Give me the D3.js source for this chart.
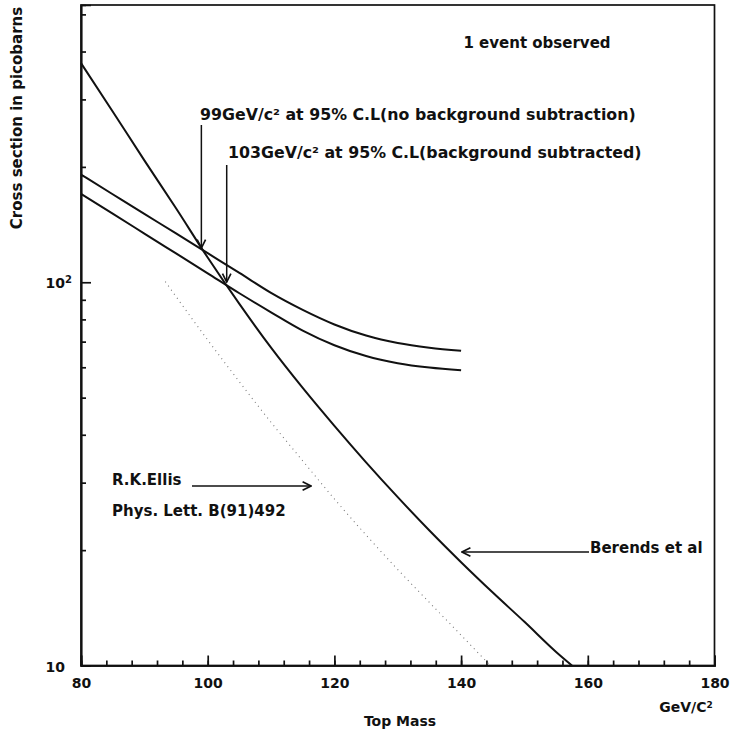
<!DOCTYPE html>
<html><head><meta charset="utf-8">
<script src="https://cdn.jsdelivr.net/npm/d3@7"></script>
<style>
body{margin:0;background:#fff;}
svg text{font-family:"DejaVu Sans",sans-serif;font-weight:bold;fill:#111;}
</style></head>
<body><svg id="c" width="734" height="735"></svg>
<script>
// ---- data ----
const berendsMass = [80, 85, 90, 95, 100, 105, 110, 115, 120, 125, 130, 135, 140, 145, 150, 155, 157.5];
const berendsXsec = [373, 279, 208, 156, 116, 87.8, 67.5, 53.0, 42.2, 33.9, 27.5, 22.5, 18.6, 15.5, 13.0, 10.85, 10];

const limitMass = [80, 85, 90, 95, 100, 105, 110, 115, 120, 125, 130, 135, 140];
const limitNoBg = [191, 169.7, 150.8, 134.1, 119.1, 105.8, 93.8, 84.7, 77.6, 72.6, 69.4, 67.5, 66.3];
const limitBgSub = [170, 151.0, 134.0, 118.9, 105.5, 93.6, 83.5, 74.8, 68.5, 64.2, 61.5, 59.9, 58.9];

const ellisMass = [93.3, 100, 105, 110, 115, 120, 125, 130, 135, 140, 144.6];
const ellisXsec = [100.4, 70.7, 55.0, 43.1, 34.2, 27.2, 21.9, 17.8, 14.6, 12.0, 10];

const xMajorTicks = [80, 100, 120, 140, 160, 180];
const xMinorTicks = d3.range(80, 181, 4);
const yMajorTicks = [10, 100];
const yMinorTicks = [20, 30, 40, 50, 60, 70, 80, 90, 200, 300, 400, 500];

const limitNoBgMass = 99, limitBgSubMass = 103;
const labelTop = "1 event observed";
const labelNoBg = "99GeV/c² at 95% C.L(no background subtraction)";
const labelBgSub = "103GeV/c² at 95% C.L(background subtracted)";

// ---- scales ----
const svg = d3.select("#c");
const x = d3.scaleLinear().domain([80, 180]).range([81, 714.5]);
const y = d3.scaleLog().domain([10, 529]).range([665.5, 5]);

const line = d3.line().x(d => x(d[0])).y(d => y(d[1])).curve(d3.curveMonotoneX);

// frame
svg.append("rect").attr("x", x(80)).attr("y", y(529))
  .attr("width", x(180) - x(80)).attr("height", y(10) - y(529))
  .attr("fill", "none").attr("stroke", "#111").attr("stroke-width", 1.7);

// axes
function styleAxis(g) {
  g.selectAll("path.domain").attr("stroke", "#111").attr("stroke-width", 1.7);
  g.selectAll(".tick line").attr("stroke", "#111").attr("stroke-width", 1.7);
  g.selectAll(".tick text").attr("font-size", 14).attr("font-family", null).attr("fill", "#111");
}
const gx = svg.append("g").attr("transform", `translate(0,${y(10)})`);
gx.append("g").call(d3.axisBottom(x).tickValues(xMinorTicks).tickSize(-5).tickFormat(""));
gx.append("g").call(d3.axisBottom(x).tickValues(xMajorTicks).tickSize(-10).tickPadding(13).tickFormat(d3.format("d")));
styleAxis(gx);

const gy = svg.append("g").attr("transform", `translate(${x(80)},0)`);
gy.append("g").call(d3.axisLeft(y).tickValues(yMinorTicks).tickSize(-5).tickFormat(""));
const gyM = gy.append("g").call(d3.axisLeft(y).tickValues(yMajorTicks).tickSize(-10).tickPadding(16).tickFormat(""));
styleAxis(gy);
gyM.selectAll(".tick text").each(function(d) {
  const t = d3.select(this).attr("dy", "0.4em");
  if (d === 100) {
    t.attr("x", -9);
    t.append("tspan").text("10");
    t.append("tspan").attr("dy", "-0.5em").attr("font-size", 10).text("2");
  } else {
    t.text("10");
  }
});

// axis titles
svg.append("text").attr("transform", `translate(22,118) rotate(-90)`)
  .attr("text-anchor", "middle").attr("font-size", 15).text("Cross section in picobarns");
svg.append("text").attr("x", 400).attr("y", 726).attr("text-anchor", "middle").attr("font-size", 14).text("Top Mass");
const gu = svg.append("text").attr("x", 686).attr("y", 712).attr("text-anchor", "middle").attr("font-size", 14);
gu.append("tspan").text("GeV/C");
gu.append("tspan").attr("dy", "-0.5em").attr("font-size", 9).text("2");

// curves
svg.append("path").datum(ellisMass.map((m, i) => [m, ellisXsec[i]]))
  .attr("d", line).attr("fill", "none").attr("stroke", "#777").attr("stroke-width", 1.1)
  .attr("stroke-dasharray", "1,4");
[[limitMass, limitNoBg], [limitMass, limitBgSub], [berendsMass, berendsXsec]].forEach(([mx, vy]) => {
  svg.append("path").datum(mx.map((m, i) => [m, vy[i]]))
    .attr("d", line).attr("fill", "none").attr("stroke", "#111").attr("stroke-width", 2);
});

// arrows
const defs = svg.append("defs");
defs.append("marker").attr("id", "ah").attr("viewBox", "0 0 10 10").attr("refX", 9).attr("refY", 5)
  .attr("markerWidth", 7).attr("markerHeight", 7).attr("orient", "auto")
  .append("path").attr("d", "M1,1 L9,5 L1,9").attr("fill", "none").attr("stroke", "#111").attr("stroke-width", 1.6);

function arrow(x1, y1, x2, y2) {
  svg.append("line").attr("x1", x1).attr("y1", y1).attr("x2", x2).attr("y2", y2)
    .attr("stroke", "#111").attr("stroke-width", 1.5).attr("marker-end", "url(#ah)");
}
const noBgAt = d3.scaleLinear().domain(limitMass).range(limitNoBg)(limitNoBgMass);
const bgSubAt = d3.scaleLinear().domain(limitMass).range(limitBgSub)(limitBgSubMass);
arrow(x(limitNoBgMass), 125, x(limitNoBgMass), y(noBgAt) - 1);
arrow(x(limitBgSubMass), 165, x(limitBgSubMass), y(bgSubAt) - 3);

// texts
svg.append("text").attr("x", 537).attr("y", 47.5).attr("text-anchor", "middle").attr("font-size", 15).text(labelTop);
svg.append("text").attr("x", 200).attr("y", 120).attr("font-size", 15.8).text(labelNoBg);
svg.append("text").attr("x", 228).attr("y", 158).attr("font-size", 15.8).text(labelBgSub);

svg.append("text").attr("x", 112).attr("y", 485).attr("font-size", 15).text("R.K.Ellis");
svg.append("text").attr("x", 112).attr("y", 516).attr("font-size", 15).text("Phys. Lett. B(91)492");
arrow(192, 486, 311, 486);

svg.append("text").attr("x", 590).attr("y", 553).attr("font-size", 15).text("Berends et al");
arrow(589, 552, 462, 552);
</script></body></html>
